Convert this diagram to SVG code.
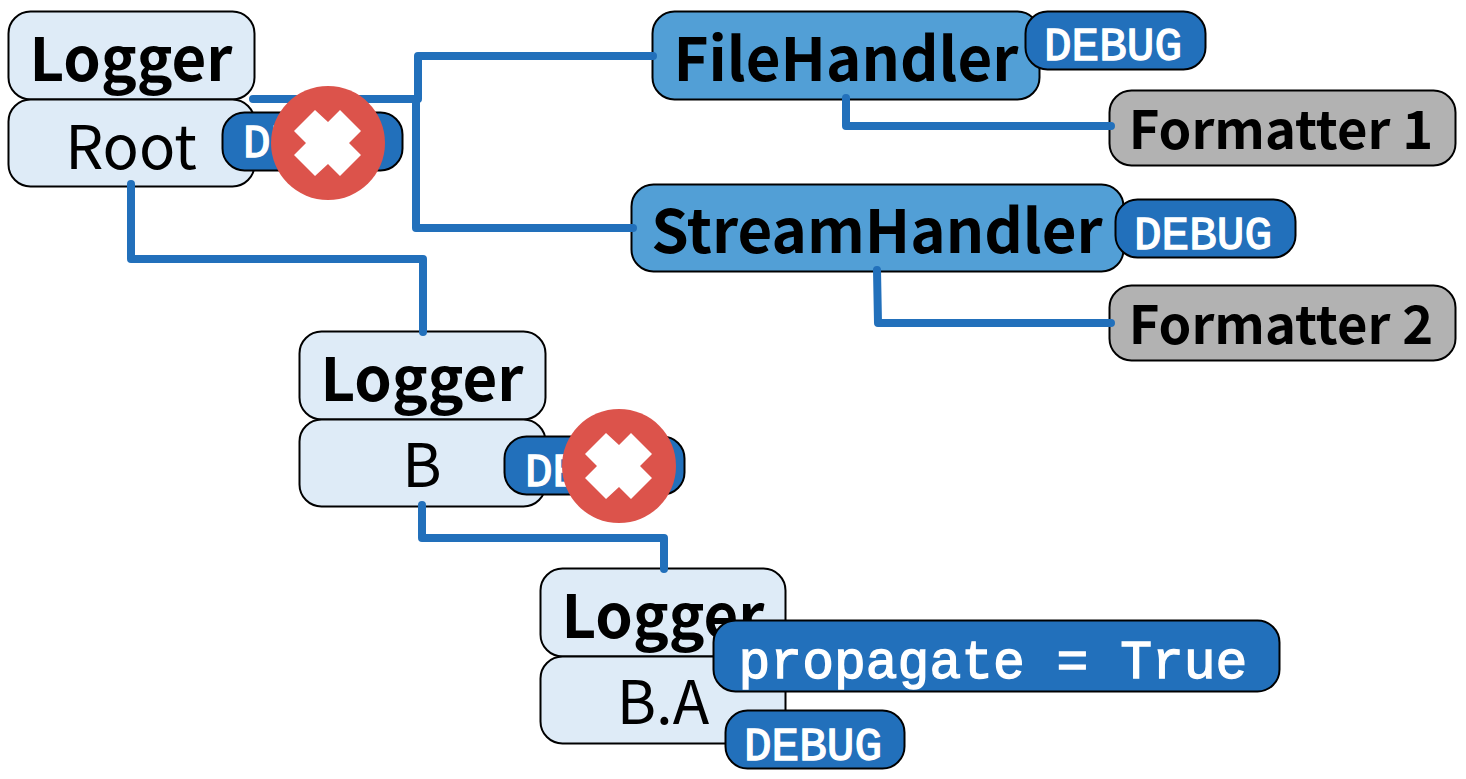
<svg xmlns="http://www.w3.org/2000/svg" width="1466" height="779" viewBox="0 0 1466 779">
<style>
.n{stroke:#000;stroke-width:2}
.lg{fill:#deebf7}
.h{fill:#529fd6}
.f{fill:#b2b2b2}
.b{fill:#2270bb}
text{text-anchor:middle;font-family:"Noto Sans CJK SC","Noto Sans",sans-serif;fill:#000}
.t{font-size:60px;font-weight:700}
.r{font-size:60px;font-weight:400}
.s{font-size:52.500px;font-weight:700}
.m{font-family:"Liberation Mono",monospace;fill:#fff;stroke:#fff;stroke-width:1.300;font-size:46px;font-weight:400}
.p{font-size:53px}
.c{fill:none;stroke:#2270bb;stroke-width:8;stroke-linecap:round;stroke-linejoin:round}
.x{fill:#dc534b}
.w{fill:#fff}
</style>
<g id="root-logger"><rect class="n lg" x="8.500" y="11.500" width="246" height="88" rx="22"/><text class="t" x="131" y="81">Logger</text></g>
<g id="root-name"><rect class="n lg" x="8.500" y="99.500" width="246" height="87" rx="22"/><text class="r" x="131" y="169">Root</text></g>
<g id="file-handler"><rect class="n h" x="652.500" y="11.500" width="387" height="88" rx="22"/><text class="t" x="846" y="81">FileHandler</text></g>
<g id="formatter-1"><rect class="n f" x="1109.500" y="90.500" width="346" height="75" rx="22"/><text class="s" x="1281" y="149">Formatter 1</text></g>
<g id="stream-handler"><rect class="n h" x="631.500" y="184.500" width="492" height="87" rx="22"/><text class="t" x="877" y="253">StreamHandler</text></g>
<g id="formatter-2"><rect class="n f" x="1109.500" y="285.500" width="346" height="75" rx="22"/><text class="s" x="1281" y="344">Formatter 2</text></g>
<g id="b-logger"><rect class="n lg" x="299.500" y="331.500" width="246" height="88" rx="22"/><text class="t" x="422" y="401">Logger</text></g>
<g id="b-name"><rect class="n lg" x="299.500" y="419.500" width="246" height="87" rx="22"/><text class="r" x="422" y="487">B</text></g>
<g id="ba-logger"><rect class="n lg" x="540.500" y="568.500" width="245" height="88" rx="22"/><text class="t" x="663" y="638">Logger</text></g>
<g id="ba-name"><rect class="n lg" x="540.500" y="656.500" width="245" height="87" rx="22"/><text class="r" x="663" y="724">B.A</text></g>
<g id="connectors">
<path class="c" d="M131 184V259H423V332"/>
<path class="c" d="M253 99H418M418 99V56H653M416 99V228H633"/>
<path class="c" d="M846 98V126H1111"/>
<path class="c" d="M877 270L878 323H1111"/>
<path class="c" d="M422 505V538H664V569"/>
</g>
<g id="root-debug"><rect class="n b" x="222.500" y="112.500" width="180" height="58" rx="22"/><text class="m" x="312" y="157">DEBUG</text></g>
<g id="root-x"><circle class="x" cx="328" cy="143" r="57"/><path class="w" d="M294 131L315 110L328 122L340 110L361 131L349 143L361 155L340 176L328 164L315 176L294 155L306 143Z"/></g>
<g id="file-debug"><rect class="n b" x="1025.500" y="11.500" width="180" height="58" rx="22"/><text class="m" x="1113" y="60">DEBUG</text></g>
<g id="stream-debug"><rect class="n b" x="1115.500" y="199.500" width="180" height="58" rx="22"/><text class="m" x="1203" y="249">DEBUG</text></g>
<g id="b-debug"><rect class="n b" x="504.500" y="436.500" width="180" height="58" rx="22"/><text class="m" x="594" y="486">DEBUG</text></g>
<g id="b-x"><circle class="x" cx="619" cy="466" r="57"/><path class="w" d="M585 454L606 433L619 445L631 433L652 454L640 466L652 478L631 499L619 487L606 499L585 478L597 466Z"/></g>
<g id="propagate"><rect class="n b" x="713.500" y="620.500" width="566" height="71" rx="22"/><text class="m p" x="993" y="678">propagate = True</text></g>
<g id="ba-debug"><rect class="n b" x="725.500" y="710.500" width="179" height="58" rx="22"/><text class="m" x="813" y="760">DEBUG</text></g>
</svg>
